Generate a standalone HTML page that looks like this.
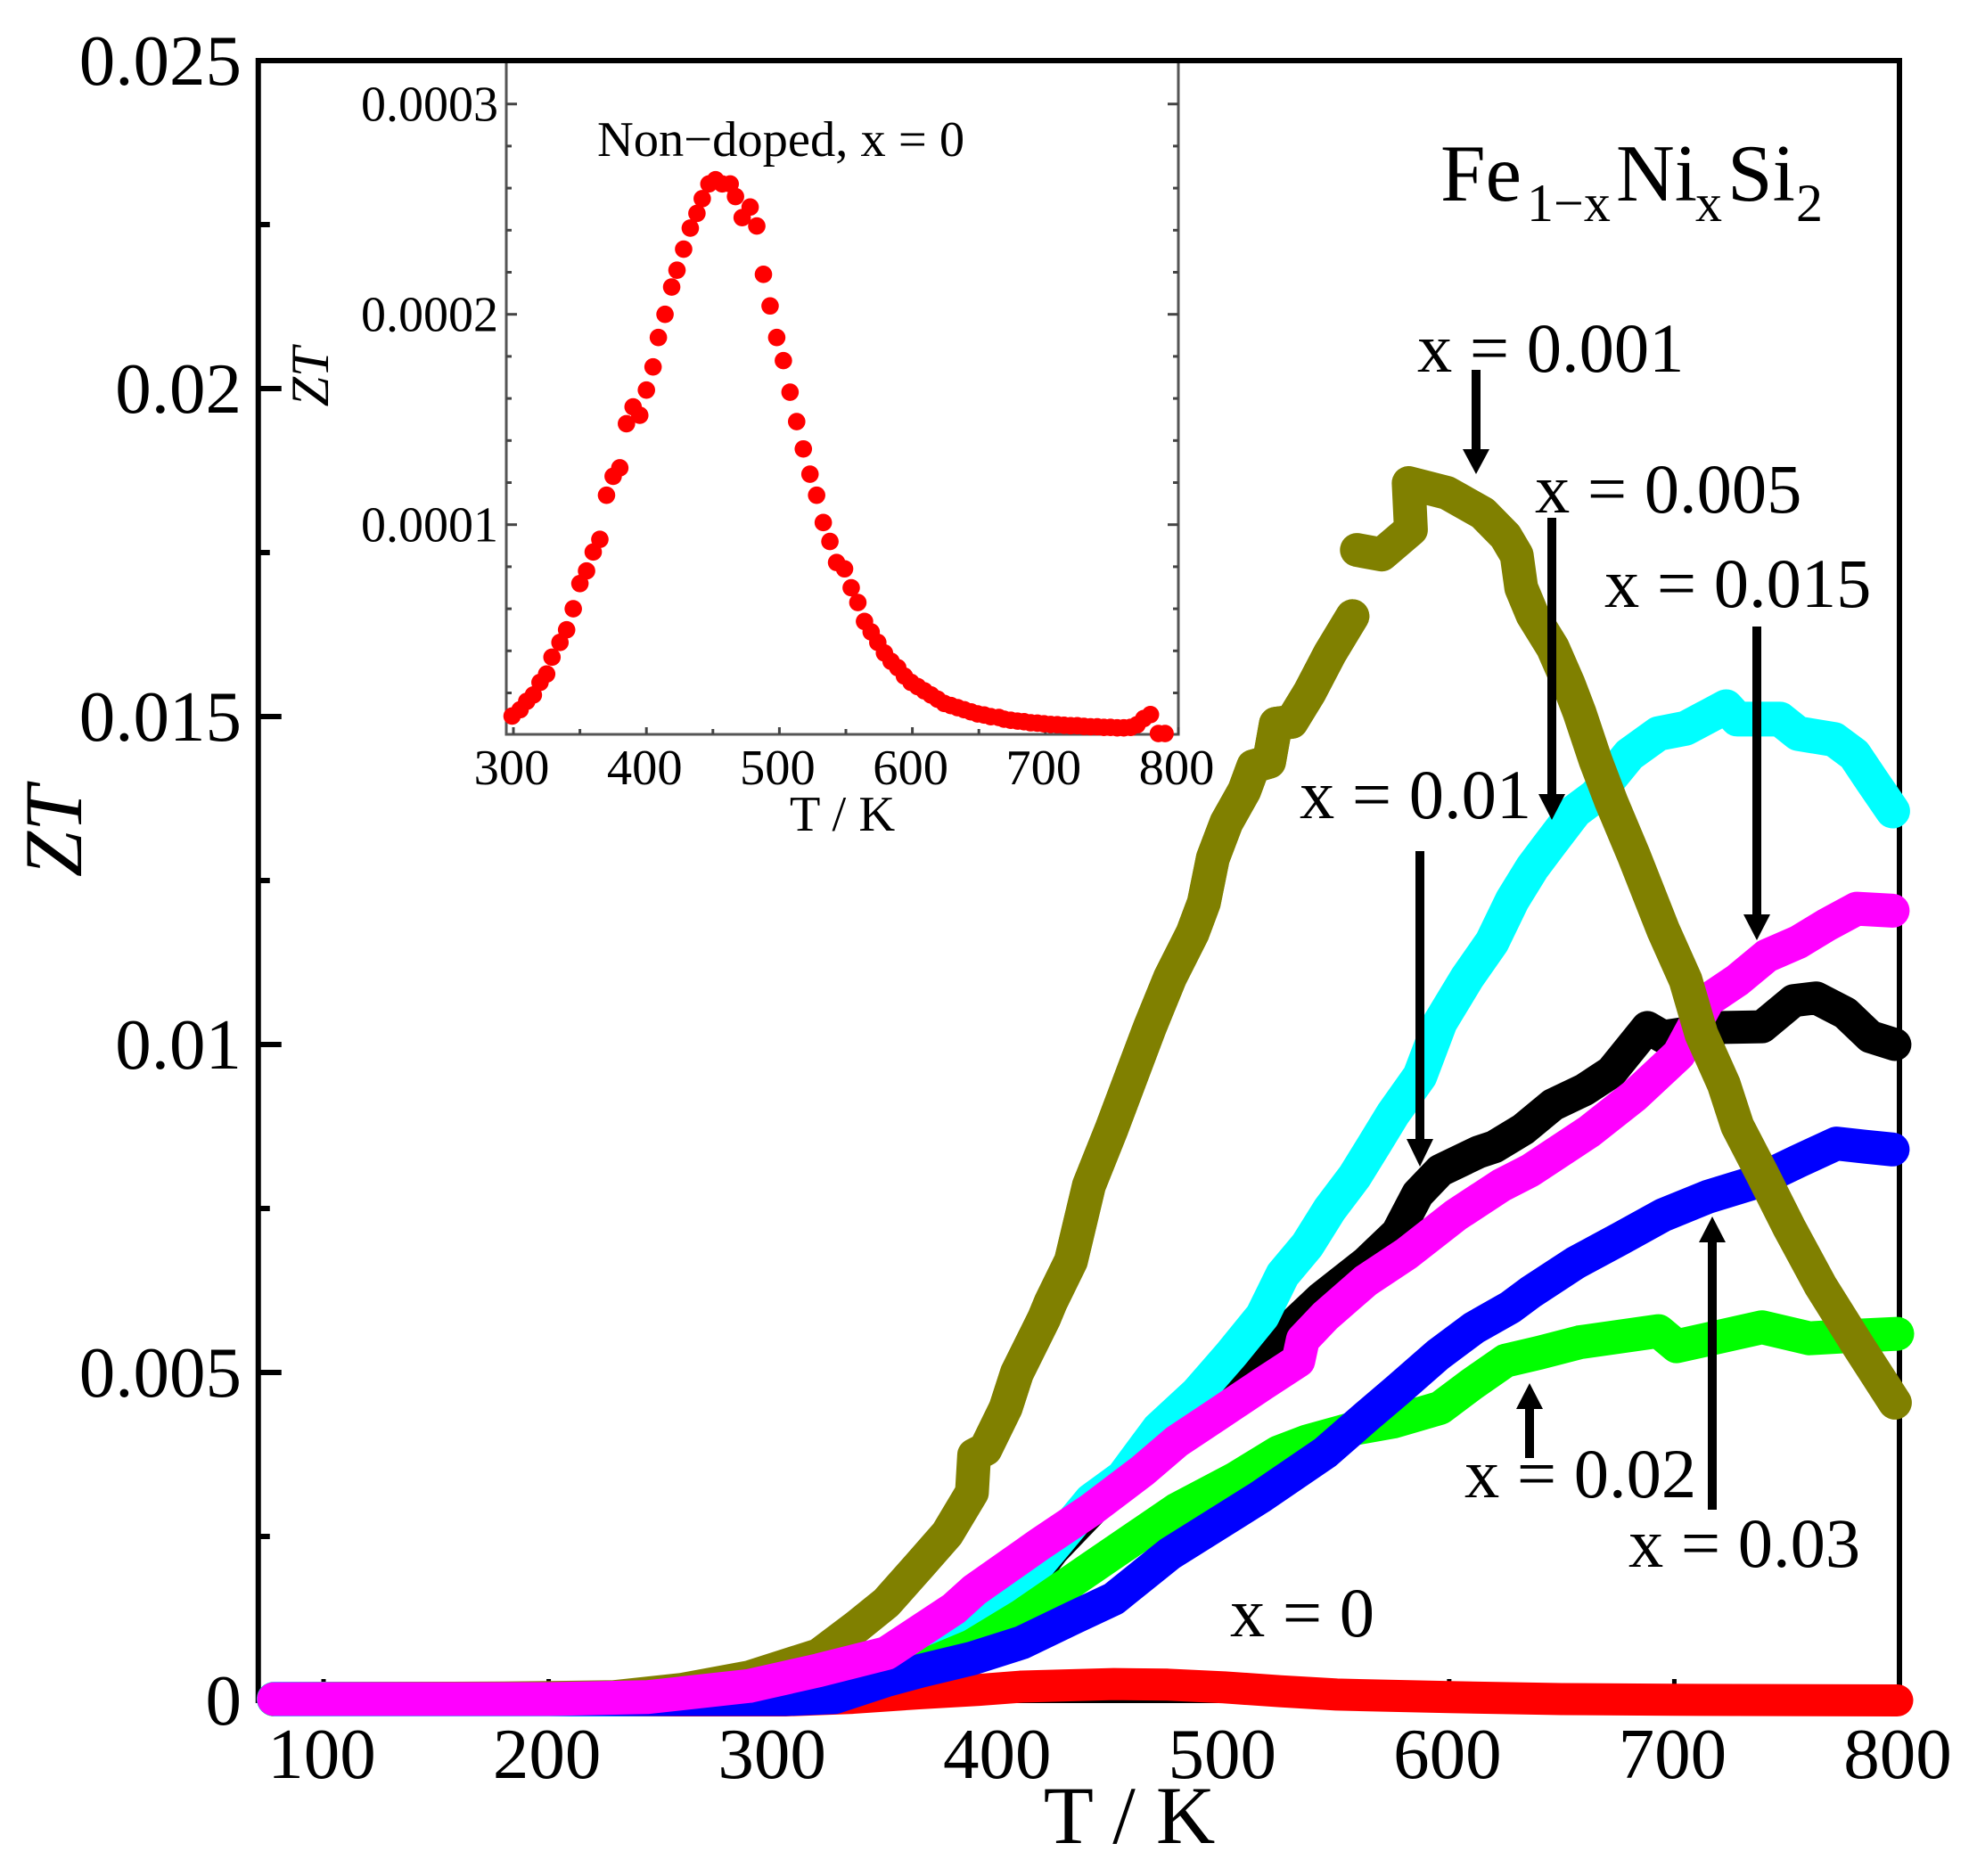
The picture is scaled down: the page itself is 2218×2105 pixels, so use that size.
<!DOCTYPE html>
<html lang="en">
<head>
<meta charset="utf-8">
<title>ZT vs T for Fe1-xNixSi2</title>
<style>
html,body{margin:0;padding:0;background:#fff;}
#chart{display:block;}
text{font-family:"Liberation Serif",serif;fill:#000;}
</style>
</head>
<body>
<svg id="chart" xmlns="http://www.w3.org/2000/svg" width="2218" height="2105" viewBox="0 0 2218 2105">
  <rect x="0" y="0" width="2218" height="2105" fill="#fff"/>
  <g id="inset"></g>
  <g id="main-axes"></g>
  <g id="series"></g>
  <g id="arrows"></g>

  <text x="1267" y="2068" font-size="92" text-anchor="middle" xml:space="preserve">T / K</text>
  <text transform="translate(91,933) rotate(-90)" font-size="92" font-style="italic" text-anchor="middle">ZT</text>
  <text y="225" font-size="91"><tspan x="1616">Fe</tspan><tspan x="1713" y="248" font-size="60">1−x</tspan><tspan x="1813" y="225">Ni</tspan><tspan x="1902" y="248" font-size="60">x</tspan><tspan x="1938" y="225">Si</tspan><tspan x="2015" y="248" font-size="60">2</tspan></text>

  <text x="1590" y="417" font-size="78.5" xml:space="preserve">x = 0.001</text>
  <text x="1722" y="575" font-size="78.5" xml:space="preserve">x = 0.005</text>
  <text x="1800" y="681" font-size="78.5" xml:space="preserve">x = 0.015</text>
  <text x="1458" y="918" font-size="78.5" xml:space="preserve">x = 0.01</text>
  <text x="1643" y="1680" font-size="78.5" xml:space="preserve">x = 0.02</text>
  <text x="1827" y="1758" font-size="78.5" xml:space="preserve">x = 0.03</text>
  <text x="1380" y="1836" font-size="78.5" xml:space="preserve">x = 0</text>

  <text x="670" y="175" font-size="56.5" xml:space="preserve">Non−doped, x = 0</text>
  <text x="945" y="932" font-size="56.5" text-anchor="middle" xml:space="preserve">T / K</text>
  <text transform="translate(368,423) rotate(-90)" font-size="60" font-style="italic" text-anchor="middle">ZT</text>
</svg>

<script>
// Main chart: T in kelvin, ZT in units of 0.001
const xTickValues = [100, 200, 300, 400, 500, 600, 700, 800];
const xTickLabels = ['100', '200', '300', '400', '500', '600', '700', '800'];
const xMinorTickValues = [150, 250, 350, 450, 550, 650, 750];
const yTickValues = [0, 5, 10, 15, 20, 25];
const yTickLabels = ['0', '0.005', '0.01', '0.015', '0.02', '0.025'];
const yMinorTickValues = [2.5, 7.5, 12.5, 17.5, 22.5];

const tempX001a = [78,180,229,259,289,320,337,350,365,377,388,389,394,403,408,420,423,432,440,450,458,467,476,486,491,495,501,509,513,520,523,530,538,547,557];
const ztX001a = [0.02,0.03,0.05,0.16,0.35,0.69,1.13,1.49,2.07,2.54,3.17,3.74,3.83,4.46,4.99,5.82,6.07,6.70,7.85,8.71,9.44,10.26,11.02,11.70,12.16,12.84,13.38,13.87,14.24,14.31,14.89,14.92,15.37,15.96,16.53];
const tempX001b = [559,570,583,582,599,615,625,630,632,637,646,653,658,665,672,682,695,705,712,722,728,739,751,765,782,798];
const ztX001b = [17.54,17.47,17.85,18.56,18.41,18.10,17.75,17.46,16.96,16.55,16.05,15.50,15.05,14.33,13.70,12.88,11.75,10.98,10.16,9.39,8.76,8.03,7.21,6.32,5.39,4.54];

const tempX005 = [78,225,270,300,327,350,373,403,426,441,455,471,488,503,517,526,537,547,558,567,575,587,596,608,619,628,637,644,656,665,680,693,705,723,728,747,755,771,780,788,797];
const ztX005 = [0.02,0.02,0.03,0.05,0.12,0.40,0.77,1.49,2.43,3.05,3.40,4.14,4.68,5.27,5.86,6.49,6.94,7.49,7.99,8.49,8.94,9.52,10.34,11.02,11.56,12.20,12.70,13.02,13.56,13.79,14.42,14.74,14.82,15.15,14.96,14.96,14.74,14.65,14.42,14.01,13.56];

const tempX015 = [78,200,244,289,320,350,380,389,418,441,464,479,497,517,533,535,545,563,581,603,623,636,662,682,702,715,728,741,755,768,781,797];
const ztX015 = [0.02,0.02,0.05,0.22,0.46,0.72,1.40,1.68,2.38,2.91,3.51,3.95,4.36,4.82,5.18,5.50,5.86,6.40,6.81,7.40,7.85,8.08,8.67,9.21,9.85,10.68,10.98,11.35,11.56,11.83,12.07,12.04];

const tempX01 = [78,300,330,370,400,424,455,479,506,516,526,543,563,577,586,596,613,620,633,646,660,672,688,695,722,739,753,763,776,787,798];
const ztX01 = [0.02,0.02,0.10,0.60,1.20,2.29,3.40,4.20,4.77,5.14,5.58,6.13,6.67,7.13,7.72,8.08,8.36,8.44,8.71,9.08,9.31,9.58,10.26,10.12,10.26,10.27,10.67,10.71,10.48,10.12,10.00];

const tempX02 = [78,270,310,340,365,388,410,441,479,505,524,537,557,575,596,610,625,640,658,693,701,739,760,775,799];
const ztX02 = [0.02,0.02,0.05,0.20,0.50,0.83,1.29,2.02,2.91,3.38,3.78,3.95,4.14,4.25,4.46,4.82,5.18,5.30,5.46,5.63,5.40,5.69,5.52,5.55,5.59];

const tempX03 = [78,305,327,350,365,388,410,433,451,476,516,545,563,577,595,611,627,636,656,676,695,715,735,755,772,785,797];
const ztX03 = [0.02,0.02,0.05,0.31,0.45,0.64,0.88,1.26,1.55,2.24,3.10,3.78,4.32,4.73,5.27,5.68,5.99,6.22,6.67,7.04,7.40,7.68,7.89,8.22,8.49,8.44,8.40];

const tempX0 = [78,305,335,365,391,410,451,475,500,525,550,600,650,700,799];
const ztX0 = [0,0,0.04,0.11,0.16,0.21,0.25,0.24,0.20,0.14,0.09,0.05,0.02,0.01,0];

// Inset chart: T in kelvin, ZT in units of 0.0001
const insetXTickValues = [300, 400, 500, 600, 700, 800];
const insetXTickLabels = ['300', '400', '500', '600', '700', '800'];
const insetXMinorTickValues = [350, 450, 550, 650, 750];
const insetYTickValues = [1, 2, 3];
const insetYTickLabels = ['0.0001', '0.0002', '0.0003'];
const insetYMinorTickValues = [0.2, 0.4, 0.6, 0.8, 1.2, 1.4, 1.6, 1.8, 2.2, 2.4, 2.6, 2.8];

const insetTemp = [
  299,305,310,315,320,325,329,335,340,345,
  350,355,360,365,370,375,380,385,390,395,
  400,405,409,414,419,423,428,433,438,442,
  447,452,457,463,467,472,478,483,488,493,
  498,503,508,513,518,523,528,533,538,543,
  549,554,559,564,569,574,579,584,589,594,
  599,604,609,614,619,624,629,634,639,644,
  649,654,659,665,669,674,679,684,689,694,
  699,704,709,714,719,724,729,734,739,744,
  749,754,759,764,769,774,779,785,790
];
const insetZT = [
  0.09,0.12,0.16,0.19,0.25,0.29,0.37,0.44,0.50,0.60,
  0.72,0.78,0.87,0.93,1.14,1.23,1.27,1.48,1.56,1.52,
  1.64,1.75,1.89,2.00,2.13,2.21,2.31,2.41,2.48,2.55,
  2.62,2.64,2.62,2.62,2.56,2.46,2.51,2.42,2.19,2.04,
  1.89,1.78,1.63,1.49,1.36,1.24,1.14,1.01,0.92,0.82,
  0.79,0.70,0.63,0.54,0.49,0.44,0.39,0.35,0.32,0.28,
  0.25,0.23,0.21,0.19,0.17,0.15,0.14,0.13,0.12,0.11,
  0.10,0.095,0.087,0.083,0.075,0.07,0.066,0.063,0.058,0.056,
  0.053,0.05,0.049,0.046,0.044,0.044,0.041,0.039,0.039,0.036,
  0.036,0.034,0.034,0.036,0.049,0.078,0.097,0.007,0.007
];

const SVG_NS = 'http://www.w3.org/2000/svg';

function xMain(t) { return 363 + (t - 100) * (2131 - 363) / 700; }
function yMain(v) { return 1908 - v * (1908 - 68) / 25; }
function xInset(t) { return 576 + (t - 300) * (1322 - 576) / 500; }
function yInset(v) { return 824.7 - v * 236; }

function make(tag, attrs, parent) {
  const el = document.createElementNS(SVG_NS, tag);
  for (const key in attrs) el.setAttribute(key, attrs[key]);
  parent.appendChild(el);
  return el;
}

function drawLine(parent, name, x1, y1, x2, y2, color, width) {
  const el = make('line', { x1: x1, y1: y1, x2: x2, y2: y2, stroke: color, 'stroke-width': width }, parent);
  
  
  return el;
}

function drawText(parent, name, x, y, size, anchor, content) {
  const el = make('text', { x: x, y: y, 'font-size': size, 'text-anchor': anchor }, parent);
  el.textContent = content;
  
  
  return el;
}

function drawSeries(parent, name, temps, values, color, width) {
  const pts = temps.map(function (t, i) { return xMain(t).toFixed(1) + ',' + yMain(values[i]).toFixed(1); }).join(' ');
  const el = make('polyline', {
    points: pts, fill: 'none', stroke: color, 'stroke-width': width,
    'stroke-linecap': 'round', 'stroke-linejoin': 'round'
  }, parent);
  
  
  return el;
}

function drawArrow(parent, name, x, yStart, yBase, yTip, shaft) {
  const group = make('g', {}, parent);
  
  
  make('line', { x1: x, y1: yStart, x2: x, y2: yBase, stroke: '#000', 'stroke-width': shaft }, group);
  make('polygon', { points: (x - 15) + ',' + yBase + ' ' + (x + 15) + ',' + yBase + ' ' + x + ',' + yTip, fill: '#000' }, group);
  return group;
}

// Inset, painted first so the main frame sits over its top edge
const inset = document.getElementById('inset');
const insetFrame = make('rect', { x: 568, y: 68, width: 754, height: 756, fill: 'none', stroke: '#555', 'stroke-width': 3 }, inset);



insetYTickValues.forEach(function (v, i) {
  drawLine(inset, 'inset-y-tick-left', 568, yInset(v), 580, yInset(v), '#444', 3);
  drawLine(inset, 'inset-y-tick-right', 1322, yInset(v), 1310, yInset(v), '#444', 3);
  drawText(inset, 'inset-y-tick-label', 559, yInset(v) + 19, 56, 'end', insetYTickLabels[i]);
});
insetYMinorTickValues.forEach(function (v) {
  drawLine(inset, 'inset-y-minor-tick-left', 568, yInset(v), 574, yInset(v), '#444', 3);
  drawLine(inset, 'inset-y-minor-tick-right', 1322, yInset(v), 1316, yInset(v), '#444', 3);
});
insetXTickValues.forEach(function (t, i) {
  drawLine(inset, 'inset-x-tick', xInset(t), 824, xInset(t), 816, '#444', 3);
  drawText(inset, 'inset-x-tick-label', xInset(t) - 2, 880, 56.5, 'middle', insetXTickLabels[i]);
});
insetXMinorTickValues.forEach(function (t) {
  drawLine(inset, 'inset-x-minor-tick', xInset(t), 824, xInset(t), 818, '#444', 3);
});
insetTemp.forEach(function (t, i) {
  const dot = make('circle', { cx: xInset(t), cy: yInset(insetZT[i]), r: 9.8, fill: '#ff0000' }, inset);
  
  
});

// Main axes
const axes = document.getElementById('main-axes');
const frame = make('rect', {
  x: xMain(71), y: yMain(25), width: xMain(800) - xMain(71), height: yMain(0) - yMain(25),
  fill: 'none', stroke: '#000', 'stroke-width': 6
}, axes);



yTickValues.forEach(function (v, i) {
  drawLine(axes, 'y-tick', xMain(71), yMain(v), xMain(71) + 26, yMain(v), '#000', 6);
  drawText(axes, 'y-tick-label', 271, yMain(v) + 27, 81, 'end', yTickLabels[i]);
});
yMinorTickValues.forEach(function (v) {
  drawLine(axes, 'y-minor-tick', xMain(71), yMain(v), xMain(71) + 13, yMain(v), '#000', 6);
});
xTickValues.forEach(function (t, i) {
  drawLine(axes, 'x-tick', xMain(t), yMain(0), xMain(t), yMain(0) - 24, '#000', 5);
  drawText(axes, 'x-tick-label', xMain(t) - 2, 1995, 81, 'middle', xTickLabels[i]);
});
xMinorTickValues.forEach(function (t) {
  drawLine(axes, 'x-minor-tick', xMain(t), yMain(0), xMain(t), yMain(0) - 12, '#000', 5);
});

// Main series, in paint order
const series = document.getElementById('series');
drawSeries(series, 'series-x-0', tempX0, ztX0, '#ff0000', 36);
drawSeries(series, 'series-x-0.01', tempX01, ztX01, '#000000', 37);
drawSeries(series, 'series-x-0.005', tempX005, ztX005, '#00ffff', 39);
drawSeries(series, 'series-x-0.02', tempX02, ztX02, '#00ff00', 38);
drawSeries(series, 'series-x-0.03', tempX03, ztX03, '#0000ff', 38);
drawSeries(series, 'series-x-0.001-low', tempX001a, ztX001a, '#808000', 38);
drawSeries(series, 'series-x-0.015', tempX015, ztX015, '#ff00ff', 38);
const upperTemps = tempX001a.filter(function (t) { return t >= 400; });
const upperValues = ztX001a.filter(function (v, i) { return tempX001a[i] >= 400; });
drawSeries(series, 'series-x-0.001-high', upperTemps, upperValues, '#808000', 38);
drawSeries(series, 'series-x-0.001-peak', tempX001b, ztX001b, '#808000', 38);

// Annotation arrows
const arrows = document.getElementById('arrows');
drawArrow(arrows, 'arrow-x-0.001', 1656, 415, 504, 532, 10);
drawArrow(arrows, 'arrow-x-0.005', 1741, 581, 891, 920, 10);
drawArrow(arrows, 'arrow-x-0.015', 1971, 703, 1026, 1055, 10);
drawArrow(arrows, 'arrow-x-0.01', 1593, 955, 1278, 1309, 10);
drawArrow(arrows, 'arrow-x-0.02', 1716, 1636, 1581, 1552, 10);
drawArrow(arrows, 'arrow-x-0.03', 1921, 1694, 1394, 1365, 10);
</script>
</body>
</html>
